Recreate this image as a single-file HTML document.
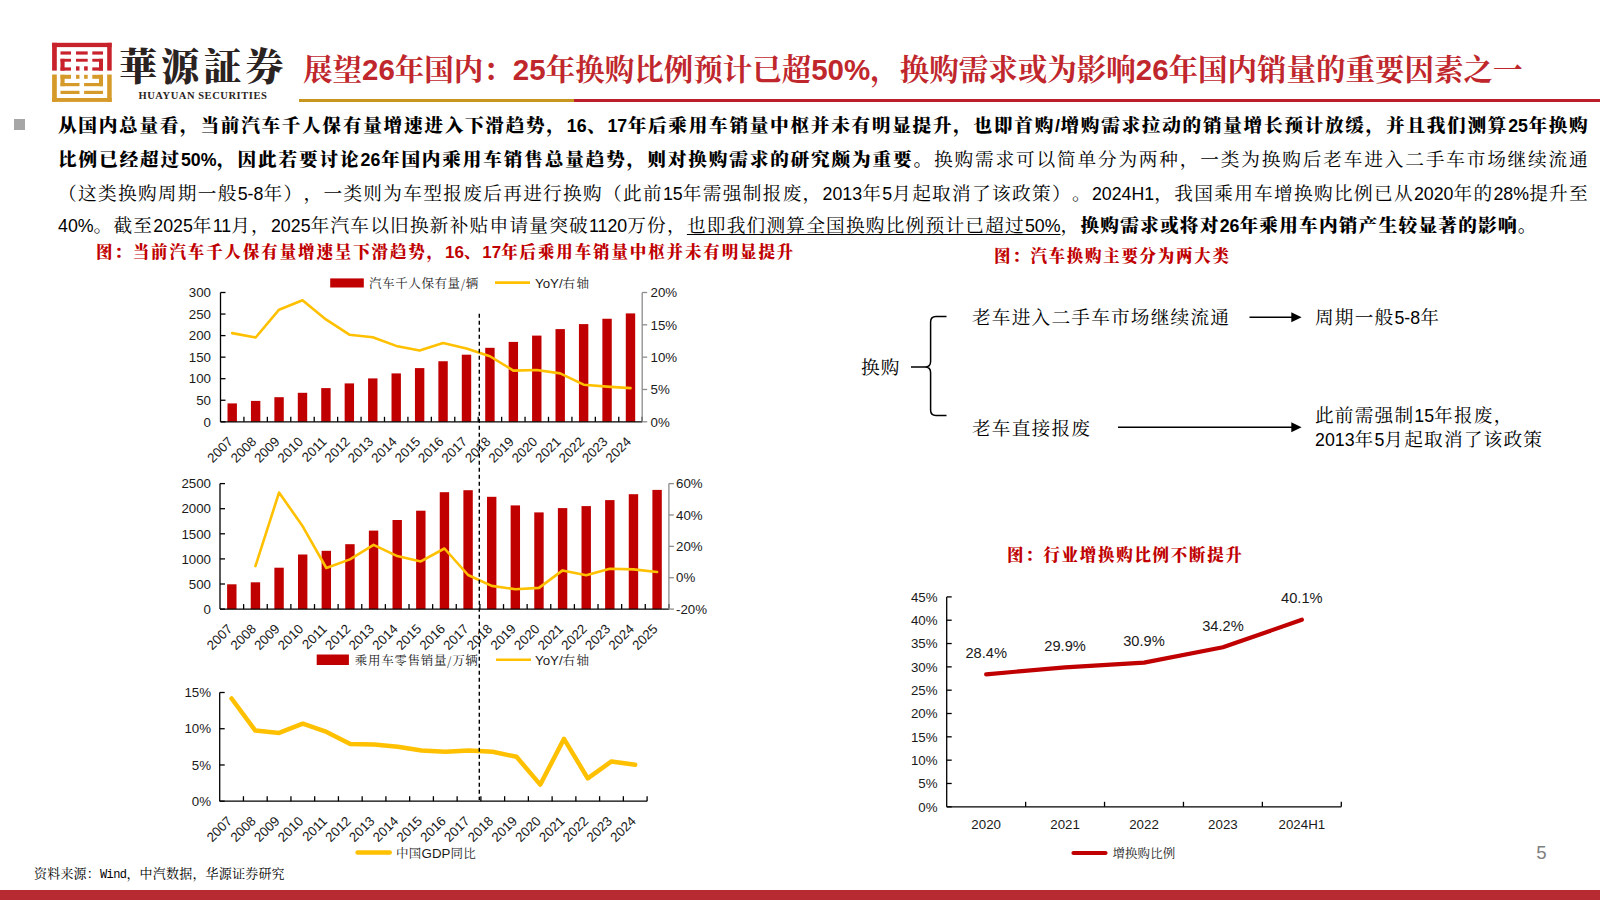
<!DOCTYPE html>
<html lang="zh-CN"><head><meta charset="utf-8"><title>华源证券</title>
<style>
*{margin:0;padding:0;box-sizing:border-box}
html,body{width:1600px;height:900px;overflow:hidden;background:#fff}
body{text-spacing-trim:space-all;position:relative;font-family:"Liberation Sans","Noto Serif CJK SC",serif;color:#000}
.abs{position:absolute;white-space:nowrap}
svg text{font-family:"Liberation Sans",Arial,sans-serif;fill:#1a1a1a}
svg .cj{font-family:"Noto Serif CJK SC",serif}
#chart{position:absolute;left:0;top:0}
.brand{left:119px;top:38px;font-family:"Noto Serif CJK TC","Noto Serif CJK SC",serif;font-weight:900;font-size:38px;letter-spacing:4.2px;color:#2b2321;line-height:52px}
.brand-en{left:138.5px;top:89px;font-family:"Liberation Serif",serif;font-weight:bold;font-size:10.5px;letter-spacing:0.55px;color:#2b2321;line-height:14px}
.title{left:303px;top:44px;font-family:"Noto Serif CJK SC",serif;font-weight:700;font-size:29.5px;color:#C0272D;line-height:46px}
.tl{font-family:"Liberation Sans",sans-serif;font-weight:bold}
.bar-g{position:absolute;left:299px;top:99px;width:275px;height:3px;background:#C8961E}
.bar-r{position:absolute;left:574px;top:99px;width:1026px;height:3px;background:#BC1F2C}
.bullet{position:absolute;left:14px;top:119px;width:11px;height:11px;background:#A6A6A6}
.ln{position:absolute;left:58px;width:1531px;height:34px;line-height:34px;font-size:18.67px;letter-spacing:1.23px;white-space:nowrap;font-family:"Noto Serif CJK SC",serif}
.l{font-family:"Liberation Sans",sans-serif;font-size:17.8px;letter-spacing:0}
.lb{font-family:"Liberation Sans",sans-serif;font-size:17.8px;letter-spacing:0;font-weight:bold}
.j{text-align:justify;text-align-last:justify}
.b{font-weight:900;font-family:"Noto Serif CJK SC",serif}
.ctitle{position:absolute;font-family:"Noto Serif CJK SC",serif;font-weight:900;color:#C00000;font-size:16.5px;letter-spacing:1.7px;line-height:24px;white-space:nowrap}
.cl{font-family:"Liberation Sans",sans-serif;font-size:17px;letter-spacing:0}
.dg{position:absolute;font-family:"Noto Serif CJK SC",serif;font-size:18.67px;line-height:24px;white-space:nowrap;letter-spacing:1.2px}
.src{position:absolute;left:34px;top:864px;font-family:"Noto Serif CJK SC",serif;font-size:13px;letter-spacing:0.2px;line-height:18px;white-space:nowrap}
.mono{font-family:"Liberation Mono",monospace;font-size:12px;letter-spacing:-0.6px}
.pg{position:absolute;left:1536.3px;top:841.5px;font-family:"Liberation Sans",sans-serif;font-size:18.6px;color:#7f7f7f;line-height:22px}
.foot{position:absolute;left:0;top:890px;width:1600px;height:10px;background:#B72A31}
u{text-decoration:underline;text-underline-offset:2px;text-decoration-thickness:1px}
</style></head><body>
<svg id="chart" width="1600" height="900" viewBox="0 0 1600 900">
<rect x="52.1" y="42.8" width="59.6" height="4.3" fill="#C8232C"/>
<rect x="52.1" y="42.8" width="4.7" height="27.8" fill="#C8232C"/>
<rect x="107.2" y="42.8" width="4.5" height="27.8" fill="#C8232C"/>
<rect x="52.1" y="74.5" width="4.7" height="27.4" fill="#D69A2A"/>
<rect x="107.2" y="74.5" width="4.5" height="27.4" fill="#D69A2A"/>
<rect x="52.1" y="98" width="59.6" height="3.9" fill="#D69A2A"/>
<rect x="60.5" y="51.4" width="10.5" height="3.2" fill="#C8232C"/>
<rect x="60.5" y="58.8" width="10.5" height="2.9" fill="#C8232C"/>
<rect x="76" y="51.4" width="11.7" height="3.2" fill="#C8232C"/>
<rect x="76" y="58.8" width="11.7" height="2.9" fill="#C8232C"/>
<rect x="92.3" y="51.4" width="10.7" height="3.2" fill="#C8232C"/>
<rect x="92.3" y="58.8" width="10.7" height="2.9" fill="#C8232C"/>
<rect x="60.5" y="58.8" width="4.1" height="11.8" fill="#C8232C"/>
<rect x="60.5" y="67.4" width="10.5" height="3.2" fill="#C8232C"/>
<rect x="99" y="58.8" width="4" height="11.8" fill="#C8232C"/>
<rect x="92.3" y="67.4" width="10.7" height="3.2" fill="#C8232C"/>
<rect x="76" y="66.3" width="3.5" height="4.3" fill="#C8232C"/>
<rect x="84.1" y="66.3" width="3.6" height="4.3" fill="#C8232C"/>
<rect x="60.5" y="74.8" width="10.5" height="4" fill="#D69A2A"/>
<rect x="60.5" y="74.8" width="4.1" height="11.4" fill="#D69A2A"/>
<rect x="60.5" y="83" width="19" height="3.2" fill="#D69A2A"/>
<rect x="76" y="74.8" width="3.5" height="4" fill="#D69A2A"/>
<rect x="84.1" y="74.8" width="3.6" height="4" fill="#D69A2A"/>
<rect x="92.3" y="74.8" width="10.7" height="4" fill="#D69A2A"/>
<rect x="99" y="74.8" width="4" height="11.4" fill="#D69A2A"/>
<rect x="84.1" y="83" width="18.9" height="3.2" fill="#D69A2A"/>
<rect x="60.5" y="90.8" width="19" height="3.2" fill="#D69A2A"/>
<rect x="84.1" y="90.8" width="18.9" height="3.2" fill="#D69A2A"/>
<rect x="227.51" y="403.4" width="9.4" height="18.4" fill="#C00000"/>
<rect x="250.94" y="400.9" width="9.4" height="20.9" fill="#C00000"/>
<rect x="274.37" y="397.2" width="9.4" height="24.6" fill="#C00000"/>
<rect x="297.8" y="392.8" width="9.4" height="29" fill="#C00000"/>
<rect x="321.23" y="388.1" width="9.4" height="33.7" fill="#C00000"/>
<rect x="344.65" y="383.4" width="9.4" height="38.4" fill="#C00000"/>
<rect x="368.08" y="378.4" width="9.4" height="43.4" fill="#C00000"/>
<rect x="391.51" y="373.4" width="9.4" height="48.4" fill="#C00000"/>
<rect x="414.94" y="368.1" width="9.4" height="53.7" fill="#C00000"/>
<rect x="438.36" y="361.25" width="9.4" height="60.55" fill="#C00000"/>
<rect x="461.79" y="354.7" width="9.4" height="67.1" fill="#C00000"/>
<rect x="485.22" y="347.8" width="9.4" height="74" fill="#C00000"/>
<rect x="508.65" y="341.9" width="9.4" height="79.9" fill="#C00000"/>
<rect x="532.08" y="335.6" width="9.4" height="86.2" fill="#C00000"/>
<rect x="555.5" y="329.1" width="9.4" height="92.7" fill="#C00000"/>
<rect x="578.93" y="324.1" width="9.4" height="97.7" fill="#C00000"/>
<rect x="602.36" y="318.75" width="9.4" height="103.05" fill="#C00000"/>
<rect x="625.79" y="313.4" width="9.4" height="108.4" fill="#C00000"/>
<polyline points="232.21,333.1 255.64,337.5 279.07,309.7 302.5,300.3 325.93,319.4 349.35,334.7 372.78,337.2 396.21,345.9 419.64,350.6 443.06,343.1 466.49,348.4 489.92,356.25 513.35,370.6 536.78,370 560.2,373.4 583.63,384.7 607.06,386.6 630.49,388.1" fill="none" stroke="#FFC000" stroke-width="2.6" stroke-linejoin="round" stroke-linecap="round"/>
<line x1="220.5" y1="421.8" x2="642.2" y2="421.8" stroke="#000" stroke-width="1.3"/>
<line x1="243.93" y1="416.8" x2="243.93" y2="421.8" stroke="#000" stroke-width="1.3"/>
<line x1="267.36" y1="416.8" x2="267.36" y2="421.8" stroke="#000" stroke-width="1.3"/>
<line x1="290.78" y1="416.8" x2="290.78" y2="421.8" stroke="#000" stroke-width="1.3"/>
<line x1="314.21" y1="416.8" x2="314.21" y2="421.8" stroke="#000" stroke-width="1.3"/>
<line x1="337.64" y1="416.8" x2="337.64" y2="421.8" stroke="#000" stroke-width="1.3"/>
<line x1="361.07" y1="416.8" x2="361.07" y2="421.8" stroke="#000" stroke-width="1.3"/>
<line x1="384.49" y1="416.8" x2="384.49" y2="421.8" stroke="#000" stroke-width="1.3"/>
<line x1="407.92" y1="416.8" x2="407.92" y2="421.8" stroke="#000" stroke-width="1.3"/>
<line x1="431.35" y1="416.8" x2="431.35" y2="421.8" stroke="#000" stroke-width="1.3"/>
<line x1="454.78" y1="416.8" x2="454.78" y2="421.8" stroke="#000" stroke-width="1.3"/>
<line x1="478.21" y1="416.8" x2="478.21" y2="421.8" stroke="#000" stroke-width="1.3"/>
<line x1="501.63" y1="416.8" x2="501.63" y2="421.8" stroke="#000" stroke-width="1.3"/>
<line x1="525.06" y1="416.8" x2="525.06" y2="421.8" stroke="#000" stroke-width="1.3"/>
<line x1="548.49" y1="416.8" x2="548.49" y2="421.8" stroke="#000" stroke-width="1.3"/>
<line x1="571.92" y1="416.8" x2="571.92" y2="421.8" stroke="#000" stroke-width="1.3"/>
<line x1="595.34" y1="416.8" x2="595.34" y2="421.8" stroke="#000" stroke-width="1.3"/>
<line x1="618.77" y1="416.8" x2="618.77" y2="421.8" stroke="#000" stroke-width="1.3"/>
<line x1="642.2" y1="416.8" x2="642.2" y2="421.8" stroke="#000" stroke-width="1.3"/>
<line x1="220.5" y1="292.5" x2="220.5" y2="421.8" stroke="#000" stroke-width="1.3"/>
<line x1="220.5" y1="292.5" x2="225.5" y2="292.5" stroke="#000" stroke-width="1.3"/>
<text x="211" y="297.2" text-anchor="end" font-size="13.3">300</text>
<line x1="220.5" y1="314.05" x2="225.5" y2="314.05" stroke="#000" stroke-width="1.3"/>
<text x="211" y="318.75" text-anchor="end" font-size="13.3">250</text>
<line x1="220.5" y1="335.6" x2="225.5" y2="335.6" stroke="#000" stroke-width="1.3"/>
<text x="211" y="340.3" text-anchor="end" font-size="13.3">200</text>
<line x1="220.5" y1="357.15" x2="225.5" y2="357.15" stroke="#000" stroke-width="1.3"/>
<text x="211" y="361.85" text-anchor="end" font-size="13.3">150</text>
<line x1="220.5" y1="378.7" x2="225.5" y2="378.7" stroke="#000" stroke-width="1.3"/>
<text x="211" y="383.4" text-anchor="end" font-size="13.3">100</text>
<line x1="220.5" y1="400.25" x2="225.5" y2="400.25" stroke="#000" stroke-width="1.3"/>
<text x="211" y="404.95" text-anchor="end" font-size="13.3">50</text>
<line x1="220.5" y1="421.8" x2="225.5" y2="421.8" stroke="#000" stroke-width="1.3"/>
<text x="211" y="426.5" text-anchor="end" font-size="13.3">0</text>
<line x1="642.2" y1="292.5" x2="642.2" y2="421.8" stroke="#8c8c8c" stroke-width="1.3"/>
<line x1="642.2" y1="292.5" x2="647.2" y2="292.5" stroke="#8c8c8c" stroke-width="1.3"/>
<text x="650.5" y="297.2" text-anchor="start" font-size="13.3">20%</text>
<line x1="642.2" y1="324.82" x2="647.2" y2="324.82" stroke="#8c8c8c" stroke-width="1.3"/>
<text x="650.5" y="329.52" text-anchor="start" font-size="13.3">15%</text>
<line x1="642.2" y1="357.15" x2="647.2" y2="357.15" stroke="#8c8c8c" stroke-width="1.3"/>
<text x="650.5" y="361.85" text-anchor="start" font-size="13.3">10%</text>
<line x1="642.2" y1="389.48" x2="647.2" y2="389.48" stroke="#8c8c8c" stroke-width="1.3"/>
<text x="650.5" y="394.18" text-anchor="start" font-size="13.3">5%</text>
<line x1="642.2" y1="421.8" x2="647.2" y2="421.8" stroke="#8c8c8c" stroke-width="1.3"/>
<text x="650.5" y="426.5" text-anchor="start" font-size="13.3">0%</text>
<text x="233.71" y="442.5" text-anchor="end" font-size="13.3" transform="rotate(-45 233.71 442.5)">2007</text>
<text x="257.14" y="442.5" text-anchor="end" font-size="13.3" transform="rotate(-45 257.14 442.5)">2008</text>
<text x="280.57" y="442.5" text-anchor="end" font-size="13.3" transform="rotate(-45 280.57 442.5)">2009</text>
<text x="304" y="442.5" text-anchor="end" font-size="13.3" transform="rotate(-45 304 442.5)">2010</text>
<text x="327.43" y="442.5" text-anchor="end" font-size="13.3" transform="rotate(-45 327.43 442.5)">2011</text>
<text x="350.85" y="442.5" text-anchor="end" font-size="13.3" transform="rotate(-45 350.85 442.5)">2012</text>
<text x="374.28" y="442.5" text-anchor="end" font-size="13.3" transform="rotate(-45 374.28 442.5)">2013</text>
<text x="397.71" y="442.5" text-anchor="end" font-size="13.3" transform="rotate(-45 397.71 442.5)">2014</text>
<text x="421.14" y="442.5" text-anchor="end" font-size="13.3" transform="rotate(-45 421.14 442.5)">2015</text>
<text x="444.56" y="442.5" text-anchor="end" font-size="13.3" transform="rotate(-45 444.56 442.5)">2016</text>
<text x="467.99" y="442.5" text-anchor="end" font-size="13.3" transform="rotate(-45 467.99 442.5)">2017</text>
<text x="491.42" y="442.5" text-anchor="end" font-size="13.3" transform="rotate(-45 491.42 442.5)">2018</text>
<text x="514.85" y="442.5" text-anchor="end" font-size="13.3" transform="rotate(-45 514.85 442.5)">2019</text>
<text x="538.28" y="442.5" text-anchor="end" font-size="13.3" transform="rotate(-45 538.28 442.5)">2020</text>
<text x="561.7" y="442.5" text-anchor="end" font-size="13.3" transform="rotate(-45 561.7 442.5)">2021</text>
<text x="585.13" y="442.5" text-anchor="end" font-size="13.3" transform="rotate(-45 585.13 442.5)">2022</text>
<text x="608.56" y="442.5" text-anchor="end" font-size="13.3" transform="rotate(-45 608.56 442.5)">2023</text>
<text x="631.99" y="442.5" text-anchor="end" font-size="13.3" transform="rotate(-45 631.99 442.5)">2024</text>
<rect x="330.2" y="278.4" width="33.6" height="9.1" fill="#C00000"/>
<text x="369" y="288" font-size="12.5" class="cj" letter-spacing="0.6">汽车千人保有量/辆</text>
<line x1="495" y1="282.6" x2="530" y2="282.6" stroke="#FFC000" stroke-width="2.6"/>
<text x="535" y="288" font-size="13.3">YoY/<tspan class="cj" font-size="12.5" letter-spacing="1.3">右轴</tspan></text>
<rect x="227.11" y="584.3" width="9.4" height="24.8" fill="#C00000"/>
<rect x="250.74" y="582.3" width="9.4" height="26.8" fill="#C00000"/>
<rect x="274.37" y="567.7" width="9.4" height="41.4" fill="#C00000"/>
<rect x="297.99" y="554.5" width="9.4" height="54.6" fill="#C00000"/>
<rect x="321.62" y="550.8" width="9.4" height="58.3" fill="#C00000"/>
<rect x="345.24" y="544.2" width="9.4" height="64.9" fill="#C00000"/>
<rect x="368.87" y="530.6" width="9.4" height="78.5" fill="#C00000"/>
<rect x="392.5" y="520" width="9.4" height="89.1" fill="#C00000"/>
<rect x="416.12" y="510.7" width="9.4" height="98.4" fill="#C00000"/>
<rect x="439.75" y="492.2" width="9.4" height="116.9" fill="#C00000"/>
<rect x="463.38" y="490.2" width="9.4" height="118.9" fill="#C00000"/>
<rect x="487" y="496.8" width="9.4" height="112.3" fill="#C00000"/>
<rect x="510.63" y="505.4" width="9.4" height="103.7" fill="#C00000"/>
<rect x="534.26" y="512.4" width="9.4" height="96.7" fill="#C00000"/>
<rect x="557.88" y="508.1" width="9.4" height="101" fill="#C00000"/>
<rect x="581.51" y="506.1" width="9.4" height="103" fill="#C00000"/>
<rect x="605.13" y="500.1" width="9.4" height="109" fill="#C00000"/>
<rect x="628.76" y="494.2" width="9.4" height="114.9" fill="#C00000"/>
<rect x="652.39" y="489.9" width="9.4" height="119.2" fill="#C00000"/>
<polyline points="255.44,566.1 279.07,492.5 302.69,526.3 326.32,568 349.94,559.4 373.57,544.9 397.2,556.1 420.82,561.4 444.45,548.5 468.08,575 491.7,585.9 515.33,589.2 538.96,587.9 562.58,570.4 586.21,575.3 609.83,568.7 633.46,569.4 657.09,572" fill="none" stroke="#FFC000" stroke-width="2.6" stroke-linejoin="round" stroke-linecap="round"/>
<line x1="220" y1="609.1" x2="668.9" y2="609.1" stroke="#000" stroke-width="1.3"/>
<line x1="243.63" y1="604.1" x2="243.63" y2="609.1" stroke="#000" stroke-width="1.3"/>
<line x1="267.25" y1="604.1" x2="267.25" y2="609.1" stroke="#000" stroke-width="1.3"/>
<line x1="290.88" y1="604.1" x2="290.88" y2="609.1" stroke="#000" stroke-width="1.3"/>
<line x1="314.51" y1="604.1" x2="314.51" y2="609.1" stroke="#000" stroke-width="1.3"/>
<line x1="338.13" y1="604.1" x2="338.13" y2="609.1" stroke="#000" stroke-width="1.3"/>
<line x1="361.76" y1="604.1" x2="361.76" y2="609.1" stroke="#000" stroke-width="1.3"/>
<line x1="385.38" y1="604.1" x2="385.38" y2="609.1" stroke="#000" stroke-width="1.3"/>
<line x1="409.01" y1="604.1" x2="409.01" y2="609.1" stroke="#000" stroke-width="1.3"/>
<line x1="432.64" y1="604.1" x2="432.64" y2="609.1" stroke="#000" stroke-width="1.3"/>
<line x1="456.26" y1="604.1" x2="456.26" y2="609.1" stroke="#000" stroke-width="1.3"/>
<line x1="479.89" y1="604.1" x2="479.89" y2="609.1" stroke="#000" stroke-width="1.3"/>
<line x1="503.52" y1="604.1" x2="503.52" y2="609.1" stroke="#000" stroke-width="1.3"/>
<line x1="527.14" y1="604.1" x2="527.14" y2="609.1" stroke="#000" stroke-width="1.3"/>
<line x1="550.77" y1="604.1" x2="550.77" y2="609.1" stroke="#000" stroke-width="1.3"/>
<line x1="574.39" y1="604.1" x2="574.39" y2="609.1" stroke="#000" stroke-width="1.3"/>
<line x1="598.02" y1="604.1" x2="598.02" y2="609.1" stroke="#000" stroke-width="1.3"/>
<line x1="621.65" y1="604.1" x2="621.65" y2="609.1" stroke="#000" stroke-width="1.3"/>
<line x1="645.27" y1="604.1" x2="645.27" y2="609.1" stroke="#000" stroke-width="1.3"/>
<line x1="668.9" y1="604.1" x2="668.9" y2="609.1" stroke="#000" stroke-width="1.3"/>
<line x1="220" y1="483.6" x2="220" y2="609.1" stroke="#000" stroke-width="1.3"/>
<line x1="220" y1="483.6" x2="225" y2="483.6" stroke="#000" stroke-width="1.3"/>
<text x="211" y="488.3" text-anchor="end" font-size="13.3">2500</text>
<line x1="220" y1="508.7" x2="225" y2="508.7" stroke="#000" stroke-width="1.3"/>
<text x="211" y="513.4" text-anchor="end" font-size="13.3">2000</text>
<line x1="220" y1="533.8" x2="225" y2="533.8" stroke="#000" stroke-width="1.3"/>
<text x="211" y="538.5" text-anchor="end" font-size="13.3">1500</text>
<line x1="220" y1="558.9" x2="225" y2="558.9" stroke="#000" stroke-width="1.3"/>
<text x="211" y="563.6" text-anchor="end" font-size="13.3">1000</text>
<line x1="220" y1="584" x2="225" y2="584" stroke="#000" stroke-width="1.3"/>
<text x="211" y="588.7" text-anchor="end" font-size="13.3">500</text>
<line x1="220" y1="609.1" x2="225" y2="609.1" stroke="#000" stroke-width="1.3"/>
<text x="211" y="613.8" text-anchor="end" font-size="13.3">0</text>
<line x1="668.9" y1="483.6" x2="668.9" y2="609.1" stroke="#8c8c8c" stroke-width="1.3"/>
<line x1="668.9" y1="483.6" x2="673.9" y2="483.6" stroke="#8c8c8c" stroke-width="1.3"/>
<text x="676" y="488.3" text-anchor="start" font-size="13.3">60%</text>
<line x1="668.9" y1="514.98" x2="673.9" y2="514.98" stroke="#8c8c8c" stroke-width="1.3"/>
<text x="676" y="519.68" text-anchor="start" font-size="13.3">40%</text>
<line x1="668.9" y1="546.35" x2="673.9" y2="546.35" stroke="#8c8c8c" stroke-width="1.3"/>
<text x="676" y="551.05" text-anchor="start" font-size="13.3">20%</text>
<line x1="668.9" y1="577.73" x2="673.9" y2="577.73" stroke="#8c8c8c" stroke-width="1.3"/>
<text x="676" y="582.43" text-anchor="start" font-size="13.3">0%</text>
<line x1="668.9" y1="609.1" x2="673.9" y2="609.1" stroke="#8c8c8c" stroke-width="1.3"/>
<text x="676" y="613.8" text-anchor="start" font-size="13.3">-20%</text>
<text x="233.31" y="629.8" text-anchor="end" font-size="13.3" transform="rotate(-45 233.31 629.8)">2007</text>
<text x="256.94" y="629.8" text-anchor="end" font-size="13.3" transform="rotate(-45 256.94 629.8)">2008</text>
<text x="280.57" y="629.8" text-anchor="end" font-size="13.3" transform="rotate(-45 280.57 629.8)">2009</text>
<text x="304.19" y="629.8" text-anchor="end" font-size="13.3" transform="rotate(-45 304.19 629.8)">2010</text>
<text x="327.82" y="629.8" text-anchor="end" font-size="13.3" transform="rotate(-45 327.82 629.8)">2011</text>
<text x="351.44" y="629.8" text-anchor="end" font-size="13.3" transform="rotate(-45 351.44 629.8)">2012</text>
<text x="375.07" y="629.8" text-anchor="end" font-size="13.3" transform="rotate(-45 375.07 629.8)">2013</text>
<text x="398.7" y="629.8" text-anchor="end" font-size="13.3" transform="rotate(-45 398.7 629.8)">2014</text>
<text x="422.32" y="629.8" text-anchor="end" font-size="13.3" transform="rotate(-45 422.32 629.8)">2015</text>
<text x="445.95" y="629.8" text-anchor="end" font-size="13.3" transform="rotate(-45 445.95 629.8)">2016</text>
<text x="469.58" y="629.8" text-anchor="end" font-size="13.3" transform="rotate(-45 469.58 629.8)">2017</text>
<text x="493.2" y="629.8" text-anchor="end" font-size="13.3" transform="rotate(-45 493.2 629.8)">2018</text>
<text x="516.83" y="629.8" text-anchor="end" font-size="13.3" transform="rotate(-45 516.83 629.8)">2019</text>
<text x="540.46" y="629.8" text-anchor="end" font-size="13.3" transform="rotate(-45 540.46 629.8)">2020</text>
<text x="564.08" y="629.8" text-anchor="end" font-size="13.3" transform="rotate(-45 564.08 629.8)">2021</text>
<text x="587.71" y="629.8" text-anchor="end" font-size="13.3" transform="rotate(-45 587.71 629.8)">2022</text>
<text x="611.33" y="629.8" text-anchor="end" font-size="13.3" transform="rotate(-45 611.33 629.8)">2023</text>
<text x="634.96" y="629.8" text-anchor="end" font-size="13.3" transform="rotate(-45 634.96 629.8)">2024</text>
<text x="658.59" y="629.8" text-anchor="end" font-size="13.3" transform="rotate(-45 658.59 629.8)">2025</text>
<rect x="316.7" y="654.5" width="32.2" height="10.5" fill="#C00000"/>
<text x="354.8" y="665" font-size="12.5" class="cj" letter-spacing="0.68">乘用车零售销量/万辆</text>
<line x1="496" y1="659.8" x2="531" y2="659.8" stroke="#FFC000" stroke-width="2.6"/>
<text x="535" y="665" font-size="13.3">YoY/<tspan class="cj" font-size="12.5" letter-spacing="1.3">右轴</tspan></text>
<polyline points="231.57,698.5 255.32,730.6 279.06,732.9 302.81,723.7 326.55,731.9 350.29,743.9 374.04,744.5 397.78,746.8 421.53,750.5 445.27,751.8 469.02,750.5 492.76,751.8 516.51,756.8 540.25,784.6 563.99,738.9 587.74,778.3 611.48,761.4 635.23,764.7" fill="none" stroke="#FFC000" stroke-width="4.5" stroke-linejoin="round" stroke-linecap="round"/>
<line x1="219.7" y1="801.2" x2="647.1" y2="801.2" stroke="#000" stroke-width="1.3"/>
<line x1="243.44" y1="796.2" x2="243.44" y2="801.2" stroke="#000" stroke-width="1.3"/>
<line x1="267.19" y1="796.2" x2="267.19" y2="801.2" stroke="#000" stroke-width="1.3"/>
<line x1="290.93" y1="796.2" x2="290.93" y2="801.2" stroke="#000" stroke-width="1.3"/>
<line x1="314.68" y1="796.2" x2="314.68" y2="801.2" stroke="#000" stroke-width="1.3"/>
<line x1="338.42" y1="796.2" x2="338.42" y2="801.2" stroke="#000" stroke-width="1.3"/>
<line x1="362.17" y1="796.2" x2="362.17" y2="801.2" stroke="#000" stroke-width="1.3"/>
<line x1="385.91" y1="796.2" x2="385.91" y2="801.2" stroke="#000" stroke-width="1.3"/>
<line x1="409.66" y1="796.2" x2="409.66" y2="801.2" stroke="#000" stroke-width="1.3"/>
<line x1="433.4" y1="796.2" x2="433.4" y2="801.2" stroke="#000" stroke-width="1.3"/>
<line x1="457.14" y1="796.2" x2="457.14" y2="801.2" stroke="#000" stroke-width="1.3"/>
<line x1="480.89" y1="796.2" x2="480.89" y2="801.2" stroke="#000" stroke-width="1.3"/>
<line x1="504.63" y1="796.2" x2="504.63" y2="801.2" stroke="#000" stroke-width="1.3"/>
<line x1="528.38" y1="796.2" x2="528.38" y2="801.2" stroke="#000" stroke-width="1.3"/>
<line x1="552.12" y1="796.2" x2="552.12" y2="801.2" stroke="#000" stroke-width="1.3"/>
<line x1="575.87" y1="796.2" x2="575.87" y2="801.2" stroke="#000" stroke-width="1.3"/>
<line x1="599.61" y1="796.2" x2="599.61" y2="801.2" stroke="#000" stroke-width="1.3"/>
<line x1="623.36" y1="796.2" x2="623.36" y2="801.2" stroke="#000" stroke-width="1.3"/>
<line x1="647.1" y1="796.2" x2="647.1" y2="801.2" stroke="#000" stroke-width="1.3"/>
<line x1="219.7" y1="692.5" x2="219.7" y2="801.2" stroke="#000" stroke-width="1.3"/>
<line x1="219.7" y1="692.5" x2="224.7" y2="692.5" stroke="#000" stroke-width="1.3"/>
<text x="211" y="697.2" text-anchor="end" font-size="13.3">15%</text>
<line x1="219.7" y1="728.73" x2="224.7" y2="728.73" stroke="#000" stroke-width="1.3"/>
<text x="211" y="733.43" text-anchor="end" font-size="13.3">10%</text>
<line x1="219.7" y1="764.97" x2="224.7" y2="764.97" stroke="#000" stroke-width="1.3"/>
<text x="211" y="769.67" text-anchor="end" font-size="13.3">5%</text>
<line x1="219.7" y1="801.2" x2="224.7" y2="801.2" stroke="#000" stroke-width="1.3"/>
<text x="211" y="805.9" text-anchor="end" font-size="13.3">0%</text>
<text x="233.07" y="821.9" text-anchor="end" font-size="13.3" transform="rotate(-45 233.07 821.9)">2007</text>
<text x="256.82" y="821.9" text-anchor="end" font-size="13.3" transform="rotate(-45 256.82 821.9)">2008</text>
<text x="280.56" y="821.9" text-anchor="end" font-size="13.3" transform="rotate(-45 280.56 821.9)">2009</text>
<text x="304.31" y="821.9" text-anchor="end" font-size="13.3" transform="rotate(-45 304.31 821.9)">2010</text>
<text x="328.05" y="821.9" text-anchor="end" font-size="13.3" transform="rotate(-45 328.05 821.9)">2011</text>
<text x="351.79" y="821.9" text-anchor="end" font-size="13.3" transform="rotate(-45 351.79 821.9)">2012</text>
<text x="375.54" y="821.9" text-anchor="end" font-size="13.3" transform="rotate(-45 375.54 821.9)">2013</text>
<text x="399.28" y="821.9" text-anchor="end" font-size="13.3" transform="rotate(-45 399.28 821.9)">2014</text>
<text x="423.03" y="821.9" text-anchor="end" font-size="13.3" transform="rotate(-45 423.03 821.9)">2015</text>
<text x="446.77" y="821.9" text-anchor="end" font-size="13.3" transform="rotate(-45 446.77 821.9)">2016</text>
<text x="470.52" y="821.9" text-anchor="end" font-size="13.3" transform="rotate(-45 470.52 821.9)">2017</text>
<text x="494.26" y="821.9" text-anchor="end" font-size="13.3" transform="rotate(-45 494.26 821.9)">2018</text>
<text x="518.01" y="821.9" text-anchor="end" font-size="13.3" transform="rotate(-45 518.01 821.9)">2019</text>
<text x="541.75" y="821.9" text-anchor="end" font-size="13.3" transform="rotate(-45 541.75 821.9)">2020</text>
<text x="565.49" y="821.9" text-anchor="end" font-size="13.3" transform="rotate(-45 565.49 821.9)">2021</text>
<text x="589.24" y="821.9" text-anchor="end" font-size="13.3" transform="rotate(-45 589.24 821.9)">2022</text>
<text x="612.98" y="821.9" text-anchor="end" font-size="13.3" transform="rotate(-45 612.98 821.9)">2023</text>
<text x="636.73" y="821.9" text-anchor="end" font-size="13.3" transform="rotate(-45 636.73 821.9)">2024</text>
<line x1="357.6" y1="852.5" x2="389.7" y2="852.5" stroke="#FFC000" stroke-width="4.5" stroke-linecap="round"/>
<text x="396" y="857.5" font-size="12.5" class="cj" letter-spacing="0.3">中国<tspan font-family="Liberation Sans" font-size="13.3" letter-spacing="0">GDP</tspan>同比</text>
<line x1="479.3" y1="313.8" x2="479.3" y2="800" stroke="#000" stroke-width="1.4" stroke-dasharray="4 3"/>
<polyline points="986.16,674.33 1065.08,667.33 1144,662.67 1222.92,647.28 1301.84,619.76" fill="none" stroke="#C00000" stroke-width="4.2" stroke-linejoin="round" stroke-linecap="round"/>
<line x1="946.7" y1="806.8" x2="1341.3" y2="806.8" stroke="#000" stroke-width="1.3"/>
<line x1="1025.62" y1="801.8" x2="1025.62" y2="806.8" stroke="#000" stroke-width="1.3"/>
<line x1="1104.54" y1="801.8" x2="1104.54" y2="806.8" stroke="#000" stroke-width="1.3"/>
<line x1="1183.46" y1="801.8" x2="1183.46" y2="806.8" stroke="#000" stroke-width="1.3"/>
<line x1="1262.38" y1="801.8" x2="1262.38" y2="806.8" stroke="#000" stroke-width="1.3"/>
<line x1="1341.3" y1="801.8" x2="1341.3" y2="806.8" stroke="#000" stroke-width="1.3"/>
<line x1="946.7" y1="596.9" x2="946.7" y2="806.8" stroke="#000" stroke-width="1.3"/>
<line x1="946.7" y1="596.9" x2="951.7" y2="596.9" stroke="#000" stroke-width="1.3"/>
<text x="937.5" y="601.6" text-anchor="end" font-size="13.3">45%</text>
<line x1="946.7" y1="620.22" x2="951.7" y2="620.22" stroke="#000" stroke-width="1.3"/>
<text x="937.5" y="624.92" text-anchor="end" font-size="13.3">40%</text>
<line x1="946.7" y1="643.54" x2="951.7" y2="643.54" stroke="#000" stroke-width="1.3"/>
<text x="937.5" y="648.24" text-anchor="end" font-size="13.3">35%</text>
<line x1="946.7" y1="666.87" x2="951.7" y2="666.87" stroke="#000" stroke-width="1.3"/>
<text x="937.5" y="671.57" text-anchor="end" font-size="13.3">30%</text>
<line x1="946.7" y1="690.19" x2="951.7" y2="690.19" stroke="#000" stroke-width="1.3"/>
<text x="937.5" y="694.89" text-anchor="end" font-size="13.3">25%</text>
<line x1="946.7" y1="713.51" x2="951.7" y2="713.51" stroke="#000" stroke-width="1.3"/>
<text x="937.5" y="718.21" text-anchor="end" font-size="13.3">20%</text>
<line x1="946.7" y1="736.83" x2="951.7" y2="736.83" stroke="#000" stroke-width="1.3"/>
<text x="937.5" y="741.53" text-anchor="end" font-size="13.3">15%</text>
<line x1="946.7" y1="760.16" x2="951.7" y2="760.16" stroke="#000" stroke-width="1.3"/>
<text x="937.5" y="764.86" text-anchor="end" font-size="13.3">10%</text>
<line x1="946.7" y1="783.48" x2="951.7" y2="783.48" stroke="#000" stroke-width="1.3"/>
<text x="937.5" y="788.18" text-anchor="end" font-size="13.3">5%</text>
<line x1="946.7" y1="806.8" x2="951.7" y2="806.8" stroke="#000" stroke-width="1.3"/>
<text x="937.5" y="811.5" text-anchor="end" font-size="13.3">0%</text>
<text x="986.16" y="657.83" text-anchor="middle" font-size="14.67">28.4%</text>
<text x="1065.08" y="650.83" text-anchor="middle" font-size="14.67">29.9%</text>
<text x="1144" y="646.17" text-anchor="middle" font-size="14.67">30.9%</text>
<text x="1222.92" y="630.78" text-anchor="middle" font-size="14.67">34.2%</text>
<text x="1301.84" y="603.26" text-anchor="middle" font-size="14.67">40.1%</text>
<text x="986.16" y="829" text-anchor="middle" font-size="13.3">2020</text>
<text x="1065.08" y="829" text-anchor="middle" font-size="13.3">2021</text>
<text x="1144" y="829" text-anchor="middle" font-size="13.3">2022</text>
<text x="1222.92" y="829" text-anchor="middle" font-size="13.3">2023</text>
<text x="1301.84" y="829" text-anchor="middle" font-size="13.3">2024H1</text>
<line x1="1073.5" y1="853" x2="1105.5" y2="853" stroke="#C00000" stroke-width="4.2" stroke-linecap="round"/>
<text x="1112.4" y="858" font-size="12.5" class="cj" letter-spacing="0.1">增换购比例</text>
<path d="M946.5,316.5 L936,316.5 Q930.6,316.5 930.6,322 L930.6,361.5 Q930.6,367 925,367 L911,367 M925,367 Q930.6,367 930.6,372.5 L930.6,410 Q930.6,415.5 936,415.5 L946.5,415.5" fill="none" stroke="#000" stroke-width="1.5"/>
<line x1="1249.5" y1="317.3" x2="1293.6" y2="317.3" stroke="#000" stroke-width="1.4"/>
<path d="M1301.6,317.3 L1291.3,312.3 L1291.3,322.3 Z" fill="#000"/>
<line x1="1118" y1="427.2" x2="1293.6" y2="427.2" stroke="#000" stroke-width="1.4"/>
<path d="M1301.6,427.2 L1291.3,422.2 L1291.3,432.2 Z" fill="#000"/>
</svg>
<div class="abs brand">華源証券</div>
<div class="abs brand-en">HUAYUAN SECURITIES</div>
<div class="abs title">展望<span class="tl">26</span>年国内：<span class="tl">25</span>年换购比例预计已超<span class="tl">50%</span>，换购需求或为影响<span class="tl">26</span>年国内销量的重要因素之一</div>
<div class="bar-g"></div><div class="bar-r"></div>
<div class="bullet"></div>
<div class="ln j" style="top:107.3px"><span class="b">从国内总量看，当前汽车千人保有量增速进入下滑趋势，<span class="lb">16</span>、<span class="lb">17</span>年后乘用车销量中枢并未有明显提升，也即首购<span class="lb">/</span>增购需求拉动的销量增长预计放缓，并且我们测算<span class="lb">25</span>年换购</span></div>
<div class="ln j" style="top:140.6px"><span class="b">比例已经超过<span class="lb">50%</span>，因此若要讨论<span class="lb">26</span>年国内乘用车销售总量趋势，则对换购需求的研究颇为重要。</span>换购需求可以简单分为两种，一类为换购后老车进入二手车市场继续流通</div>
<div class="ln j" style="top:175px">（这类换购周期一般<span class="l">5-8</span>年），一类则为车型报废后再进行换购（此前<span class="l">15</span>年需强制报废，<span class="l">2013</span>年<span class="l">5</span>月起取消了该政策）。<span class="l">2024H1</span>，我国乘用车增换购比例已从<span class="l">2020</span>年的<span class="l">28%</span>提升至</div>
<div class="ln" style="top:207.2px"><span class="l">40%</span>。截至<span class="l">2025</span>年<span class="l">11</span>月，<span class="l">2025</span>年汽车以旧换新补贴申请量突破<span class="l">1120</span>万份，<u>也即我们测算全国换购比例预计已超过<span class="l">50%</span></u>，<span class="b">换购需求或将对<span class="lb">26</span>年乘用车内销产生较显著的影响。</span></div>
<div class="ctitle" style="left:96px;top:239px;letter-spacing:1.87px">图：当前汽车千人保有量增速呈下滑趋势，<span class="cl">16</span>、<span class="cl">17</span>年后乘用车销量中枢并未有明显提升</div>
<div class="ctitle" style="left:994px;top:243px">图：汽车换购主要分为两大类</div>
<div class="ctitle" style="left:1007px;top:542px">图：行业增换购比例不断提升</div>
<div class="dg" style="left:861px;top:354.3px">换购</div>
<div class="dg" style="left:972px;top:304px">老车进入二手车市场继续流通</div>
<div class="dg" style="left:1315px;top:304px">周期一般<span class="l">5-8</span>年</div>
<div class="dg" style="left:972px;top:415px">老车直接报废</div>
<div class="dg" style="left:1315px;top:402px">此前需强制<span class="l">15</span>年报废，</div>
<div class="dg" style="left:1315px;top:426px"><span class="l">2013</span>年<span class="l">5</span>月起取消了该政策</div>
<div class="src">资料来源：<span class="mono">Wind</span>，中汽数据，华源证券研究</div>
<div class="pg">5</div>
<div class="foot"></div>
</body></html>
